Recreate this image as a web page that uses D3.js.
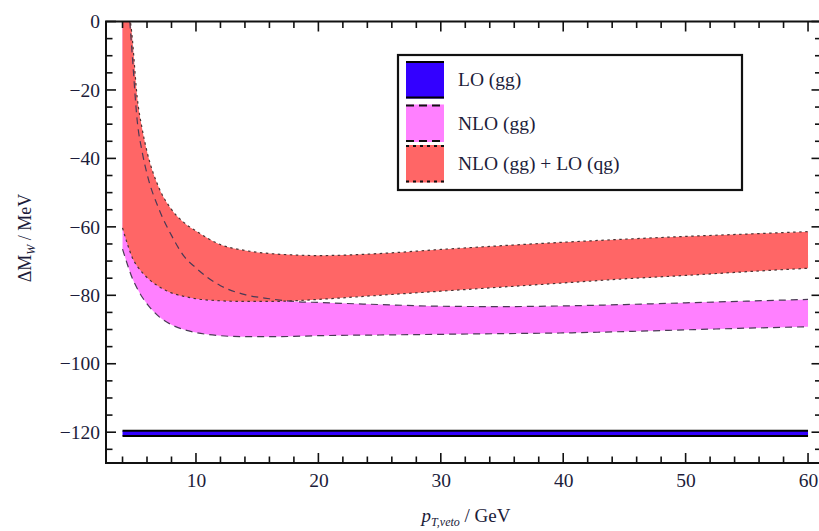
<!DOCTYPE html>
<html><head><meta charset="utf-8">
<script src="https://cdn.jsdelivr.net/npm/d3@7"></script>
<style>html,body{margin:0;padding:0;background:#fff;overflow:hidden}svg{display:block}</style>
</head><body>
<script>
// ---- data ----
const xs        = [4.0, 4.4, 4.8, 5.2, 5.6, 6.0, 7.0, 8.0, 9.0, 10, 12, 14, 16, 18, 20, 25, 30, 35, 40, 45, 50, 55, 60];
const redUpper  = [38, 9, -5, -22.2, -31.3, -38, -48.8, -54.9, -58.7, -61.2, -65.2, -66.9, -67.8, -68.2, -68.4, -67.8, -66.6, -65.5, -64.5, -63.6, -62.8, -62.1, -61.4];
const redLower  = [-60.3, -65, -69, -71.5, -73.3, -74.8, -77.5, -79.3, -80.3, -81, -81.6, -81.8, -81.8, -81.6, -81.2, -80.0, -78.8, -77.6, -76.4, -75.2, -74.2, -73.1, -72.1];
const magUpper  = [35, 10, -10, -29, -38, -44.5, -55, -62.5, -68.5, -72, -77.2, -79.8, -81, -81.8, -82.1, -82.7, -83.2, -83.3, -83.1, -82.7, -82.2, -81.7, -81.2];
const magLower  = [-66.5, -71, -75, -78, -80.5, -82.5, -86.3, -88.6, -90, -90.9, -91.8, -92.1, -92.1, -92, -91.8, -91.6, -91.4, -91.2, -91, -90.6, -90.1, -89.6, -89.2];
const loX       = [4, 60];
const loUpper   = [-119.6, -119.6];
const loLower   = [-121.1, -121.1];
const xTicks    = [10, 20, 30, 40, 50, 60];
const yTicks    = [0, -20, -40, -60, -80, -100, -120];
const legendLabels = ["LO (gg)", "NLO (gg)", "NLO (gg) + LO (qg)"];

// ---- layout ----
const W = 819, H = 531;
const L = 106, R = 821.5, T = 21.5, B = 463;
const svg = d3.select("body").append("svg").attr("width", W).attr("height", H);
const x = d3.scaleLinear().domain([2.65, 61.1]).range([L, R]);
const y = d3.scaleLinear().domain([-129, 0]).range([B, T]);

svg.append("defs").append("clipPath").attr("id", "clip")
  .append("rect").attr("x", L).attr("y", T).attr("width", R - L).attr("height", B - T);
const g = svg.append("g").attr("clip-path", "url(#clip)");

function band(X, U, Lo) { return X.map((v, i) => ({ x: v, u: U[i], l: Lo[i] })); }
const area = d3.area().x(d => x(d.x)).y0(d => y(d.l)).y1(d => y(d.u)).curve(d3.curveMonotoneX);
const lineU = d3.line().x(d => x(d.x)).y(d => y(d.u)).curve(d3.curveMonotoneX);
const lineL = d3.line().x(d => x(d.x)).y(d => y(d.l)).curve(d3.curveMonotoneX);

const mag = band(xs, magUpper, magLower);
const red = band(xs, redUpper, redLower);
const lo = band(loX, loUpper, loLower);

const cMag = "#ff80ff", cRed = "#ff6666", cBlue = "#3300ff";
g.append("path").datum(mag).attr("d", area).attr("fill", cMag);
g.append("path").datum(red).attr("d", area).attr("fill", cRed);
g.append("path").datum(lo).attr("d", area).attr("fill", cBlue);

const dashStyle = "7,5", dotStyle = "2.5,3.5";
[lineU, lineL].forEach(fn => {
  g.append("path").datum(mag).attr("d", fn).attr("fill", "none")
    .attr("stroke", "#4a3a55").attr("stroke-width", 1.2).attr("stroke-dasharray", dashStyle);
});
[lineU, lineL].forEach(fn => {
  g.append("path").datum(red).attr("d", fn).attr("fill", "none")
    .attr("stroke", "#4a3333").attr("stroke-width", 1.2).attr("stroke-dasharray", dotStyle);
});
[lineU, lineL].forEach(fn => {
  g.append("path").datum(lo).attr("d", fn).attr("fill", "none")
    .attr("stroke", "#000").attr("stroke-width", 2);
});

// ---- axes / frame ----
const fr = svg.append("g");
fr.append("rect").attr("x", L).attr("y", T).attr("width", R - L).attr("height", B - T)
  .attr("fill", "none").attr("stroke", "#111").attr("stroke-width", 2);

const font = "'Liberation Serif','Times New Roman',serif";
const xMinor = d3.range(4, 61, 2);
const yMinor = d3.range(0, -130, -5);
xMinor.forEach(v => {
  const major = v % 10 === 0, len = major ? 10 : 6.5;
  fr.append("line").attr("x1", x(v)).attr("x2", x(v)).attr("y1", B).attr("y2", B - len)
    .attr("stroke", "#111").attr("stroke-width", 1.6);
  fr.append("line").attr("x1", x(v)).attr("x2", x(v)).attr("y1", T).attr("y2", T + len)
    .attr("stroke", "#111").attr("stroke-width", 1.6);
});
yMinor.forEach(v => {
  const major = v % 20 === 0, len = major ? 10 : 6.5;
  fr.append("line").attr("x1", L).attr("x2", L + len).attr("y1", y(v)).attr("y2", y(v))
    .attr("stroke", "#111").attr("stroke-width", 1.6);
  fr.append("line").attr("x1", R).attr("x2", R - len).attr("y1", y(v)).attr("y2", y(v))
    .attr("stroke", "#111").attr("stroke-width", 1.6);
});

const xAxisG = svg.append("g").attr("transform", `translate(0,${B})`)
  .call(d3.axisBottom(x).tickValues(xTicks).tickSize(0).tickPadding(10).tickFormat(d3.format("d")));
xAxisG.select(".domain").remove();
xAxisG.selectAll("text").attr("font-family", font).attr("font-size", 19.5).attr("fill", "#1c1c3a");

const yAxisG = svg.append("g").attr("transform", `translate(${L},0)`)
  .call(d3.axisLeft(y).tickValues(yTicks).tickSize(0).tickPadding(6)
    .tickFormat(d => d === 0 ? "0" : "\u2212" + Math.abs(d)));
yAxisG.select(".domain").remove();
yAxisG.selectAll("text").attr("font-family", font).attr("font-size", 19.5).attr("fill", "#1c1c3a");

// axis titles
const xt = svg.append("text").attr("x", 466).attr("y", 522).attr("text-anchor", "middle")
  .attr("font-family", font).attr("font-size", 19).attr("fill", "#1c1c3a");
xt.append("tspan").attr("font-style", "italic").text("p");
xt.append("tspan").attr("font-style", "italic").attr("font-size", 12).attr("dy", 4).text("T,veto");
xt.append("tspan").attr("dy", -4).text(" / GeV");

const yt = svg.append("text").attr("transform", "translate(31,238) rotate(-90)")
  .attr("text-anchor", "middle").attr("font-family", font).attr("font-size", 18).attr("fill", "#1c1c3a");
yt.append("tspan").text("\u0394M");
yt.append("tspan").attr("font-style", "italic").attr("font-size", 12).attr("dy", 4).text("W");
yt.append("tspan").attr("dy", -4).text(" / MeV");

// ---- legend ----
const lg = svg.append("g");
lg.append("rect").attr("x", 398).attr("y", 55).attr("width", 344).attr("height", 135)
  .attr("fill", "#fff").attr("stroke", "#111").attr("stroke-width", 2.2);
const sw = [
  { c: cBlue, dash: null, stroke: "#000" },
  { c: cMag, dash: "8,5", stroke: "#111" },
  { c: cRed, dash: "3,4", stroke: "#111" }
];
const rowY = [61, 104.5, 145], sh = 37.5, sx = 406, sW = 38;
sw.forEach((s, i) => {
  lg.append("rect").attr("x", sx).attr("y", rowY[i]).attr("width", sW).attr("height", sh).attr("fill", s.c);
  [rowY[i] + 1, rowY[i] + sh - 1].forEach(yy => {
    const ln = lg.append("line").attr("x1", sx).attr("x2", sx + sW).attr("y1", yy).attr("y2", yy)
      .attr("stroke", s.stroke).attr("stroke-width", 2);
    if (s.dash) ln.attr("stroke-dasharray", s.dash);
  });
  lg.append("text").attr("x", 458).attr("y", rowY[i] + sh / 2 + 6.5)
    .attr("font-family", font).attr("font-size", 19.5).attr("fill", "#1c1c3a").text(legendLabels[i]);
});
</script>
</body></html>
